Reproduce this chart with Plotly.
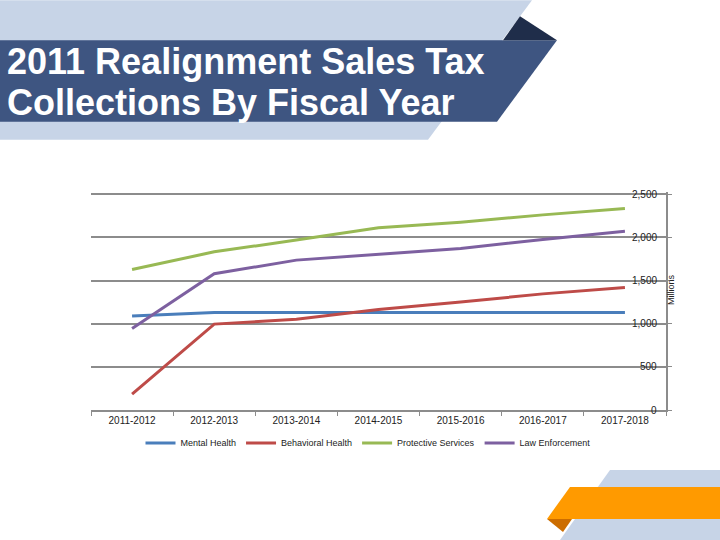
import plotly.graph_objects as go

years = ["2011-2012", "2012-2013", "2013-2014", "2014-2015", "2015-2016", "2016-2017", "2017-2018"]
mental_health = [1088, 1130, 1130, 1130, 1130, 1130, 1130]
behavioral_health = [185, 995, 1050, 1165, 1250, 1345, 1420]
protective_services = [1628, 1832, 1968, 2110, 2175, 2260, 2335]
law_enforcement = [945, 1578, 1736, 1800, 1870, 1975, 2070]
y_ticks = [0, 500, 1000, 1500, 2000, 2500]

series = [
    ("Mental Health", mental_health, "#4A7EBB"),
    ("Behavioral Health", behavioral_health, "#BE4B48"),
    ("Protective Services", protective_services, "#98B954"),
    ("Law Enforcement", law_enforcement, "#7D60A0"),
]

W, H = 720, 540
Y_MAX = 2525
L, R, B = 91, 666, 410
T = B - Y_MAX * (216 / 2500)


def px(x):
    return (x - L) / (R - L)


def py(y):
    return (B - y) / (B - T)


fig = go.Figure()
for name, vals, col in series:
    fig.add_trace(go.Scatter(x=years, y=vals, name=name, mode="lines",
                             line=dict(color=col, width=3)))


def poly(pts, color):
    path = "M " + " L ".join(f"{px(x)},{py(y)}" for x, y in pts) + " Z"
    return dict(type="path", xref="paper", yref="paper", path=path,
                fillcolor=color, line=dict(width=0), layer="below")


shapes = [
    poly([(0, 0), (532, 0), (428, 139.5), (0, 139.5)], "#C7D4E7"),
    poly([(0, 40), (557, 40), (497, 121.5), (0, 121.5)], "#3E5581"),
    poly([(520, 16), (557, 40), (503, 40)], "#1F2D4A"),
    poly([(610, 470), (720, 470), (720, 540), (560, 540)], "#C7D4E7"),
    poly([(570, 487), (720, 487), (720, 519), (547, 519)], "#FF9A00"),
    poly([(547, 519), (572, 519), (563, 532)], "#CC6D00"),
]

title_font = dict(family="Liberation Sans", size=36, color="white", weight="bold")
annotations = [
    dict(text="2011 Realignment Sales Tax", xref="paper", yref="paper",
         x=px(5), y=py(61), xanchor="left", yanchor="middle", showarrow=False,
         font=title_font),
    dict(text="Collections By Fiscal Year", xref="paper", yref="paper",
         x=px(5), y=py(102), xanchor="left", yanchor="middle", showarrow=False,
         font=title_font),
    dict(text="Millions", xref="paper", yref="paper", x=px(671), y=py(290),
         xanchor="center", yanchor="middle", textangle=-90, showarrow=False,
         font=dict(family="Liberation Sans", size=9, color="#222")),
]
for v in y_ticks:
    annotations.append(dict(text=f"{v:,}", xref="paper", yref="y", x=px(659), y=v,
                            xanchor="right", yanchor="middle", showarrow=False,
                            font=dict(family="Liberation Sans", size=10, color="#222")))

fig.update_layout(
    width=W, height=H, autosize=False,
    margin=dict(l=L, r=W - R, t=T, b=H - B),
    paper_bgcolor="white", plot_bgcolor="white",
    shapes=shapes, annotations=annotations,
    showlegend=True,
    legend=dict(orientation="h", x=px(368), y=py(443), xanchor="center",
                yanchor="middle", font=dict(family="Liberation Sans", size=9, color="#222"),
                itemwidth=30, tracegroupgap=0, bgcolor="rgba(0,0,0,0)"),
    xaxis=dict(type="category", range=[-0.5, 6.5], showgrid=False,
               showline=True, linecolor="#8C8C8C", linewidth=2,
               ticks="outside", tickson="boundaries", ticklen=4,
               tickcolor="#8C8C8C", tickwidth=1,
               tickfont=dict(family="Liberation Sans", size=10, color="#222")),
    yaxis=dict(side="right", range=[0, Y_MAX], tickvals=y_ticks, showticklabels=False,
               showgrid=True, gridcolor="#8C8C8C", gridwidth=2,
               zeroline=False, showline=True, linecolor="#8C8C8C", linewidth=2,
               ticks="outside", ticklen=4, tickcolor="#8C8C8C"),
)

fig.write_html("out.html", config={"displayModeBar": False},
               post_script="document.body.style.margin='0';document.body.style.overflow='hidden';")
